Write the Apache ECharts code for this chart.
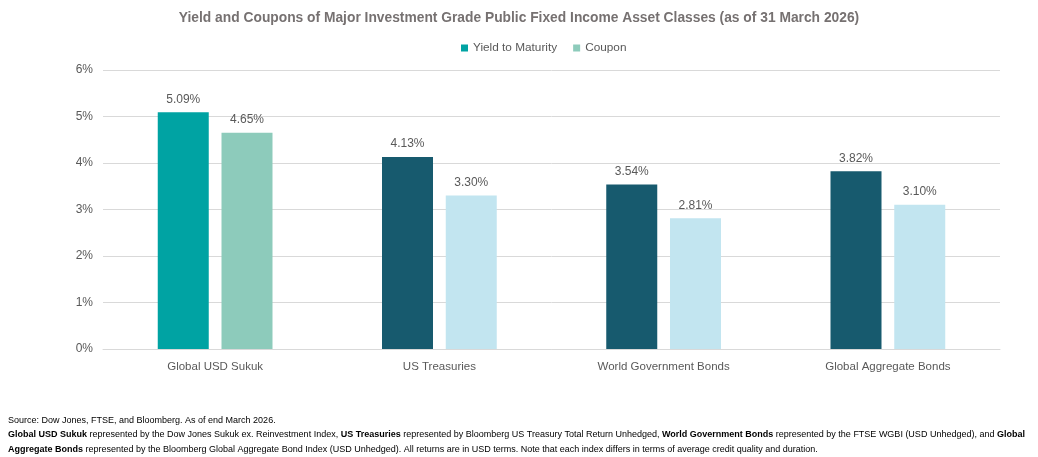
<!DOCTYPE html>
<html>
<head>
<meta charset="utf-8">
<script src="https://cdn.jsdelivr.net/npm/echarts@6/dist/echarts.min.js"></script>
<style>
  html, body { margin: 0; padding: 0; background: #fff; }
  #main { width: 1038px; height: 457px; }
</style>
</head>
<body>
<div id="main"></div>
<script>
var categories = ['Global USD Sukuk', 'US Treasuries', 'World Government Bonds', 'Global Aggregate Bonds'];
var yieldToMaturity = [5.09, 4.13, 3.54, 3.82];
var coupon = [4.65, 3.30, 2.81, 3.10];
var yTicks = [0, 1, 2, 3, 4, 5, 6];

var FONT = '"Liberation Sans Narrow", "Arial Narrow", "Liberation Sans", sans-serif';
var TEXT = '#595959';

// first category is highlighted in teal, the rest in navy / light blue
function colored(values, first, rest) {
  return values.map(function (v, i) {
    return { value: v, itemStyle: { color: i === 0 ? first : rest } };
  });
}

var footRich = {
  n: { fontFamily: FONT, fontSize: 9, color: '#000', lineHeight: 14.5 },
  b: { fontFamily: FONT, fontSize: 9, color: '#000', fontWeight: 'bold', lineHeight: 14.5 }
};

var myChart = echarts.init(document.getElementById('main'));
myChart.setOption({
  animation: false,
  textStyle: { fontFamily: FONT },
  title: {
    text: 'Yield and Coupons of Major Investment Grade Public Fixed Income Asset Classes (as of 31 March 2026)',
    left: 'center',
    top: 6,
    textStyle: { color: '#767171', fontSize: 13.8, fontWeight: 'bold', fontFamily: FONT }
  },
  legend: {
    top: 37,
    left: 456,
    itemWidth: 7,
    itemHeight: 7,
    itemGap: 16,
    icon: 'rect',
    textStyle: { color: TEXT, fontSize: 11.8, fontFamily: FONT },
    data: [
      { name: 'Yield to Maturity', itemStyle: { color: '#00A3A3' } },
      { name: 'Coupon', itemStyle: { color: '#8DCBBB' } }
    ]
  },
  grid: { left: 103, right: 38, top: 70, bottom: 108, containLabel: false },
  xAxis: {
    type: 'category',
    data: categories,
    axisTick: { show: false },
    axisLine: { lineStyle: { color: '#D9D9D9' } },
    axisLabel: { color: TEXT, fontSize: 11.5, margin: 12, fontFamily: FONT }
  },
  yAxis: {
    type: 'value',
    min: yTicks[0],
    max: yTicks[yTicks.length - 1],
    interval: 1,
    axisLabel: { color: TEXT, fontSize: 12, margin: 10, fontFamily: FONT, formatter: '{value}%' },
    splitLine: { lineStyle: { color: '#D9D9D9' } },
    axisLine: { show: false },
    axisTick: { show: false }
  },
  series: [
    {
      name: 'Yield to Maturity',
      type: 'bar',
      barWidth: 51,
      barGap: '25%',
      data: colored(yieldToMaturity, '#00A3A3', '#175A6E'),
      label: {
        show: true, position: 'top', distance: 7, color: TEXT, fontSize: 12, fontFamily: FONT,
        formatter: function (p) { return p.value.toFixed(2) + '%'; }
      }
    },
    {
      name: 'Coupon',
      type: 'bar',
      barWidth: 51,
      data: colored(coupon, '#8DCBBB', '#C2E5F0'),
      label: {
        show: true, position: 'top', distance: 7, color: TEXT, fontSize: 12, fontFamily: FONT,
        formatter: function (p) { return p.value.toFixed(2) + '%'; }
      }
    }
  ],
  graphic: [
    {
      type: 'text',
      left: 8,
      top: 416,
      style: {
        text: '{n|Source: Dow Jones, FTSE, and Bloomberg. As of end March 2026.}\n' +
          '{b|Global USD Sukuk}{n| represented by the Dow Jones Sukuk ex. Reinvestment Index, }{b|US Treasuries}{n| represented by Bloomberg US Treasury Total Return Unhedged, }{b|World Government Bonds}{n| represented by the FTSE WGBI (USD Unhedged), and }{b|Global}\n' +
          '{b|Aggregate Bonds}{n| represented by the Bloomberg Global Aggregate Bond Index (USD Unhedged). All returns are in USD terms. Note that each index differs in terms of average credit quality and duration.}',
        rich: footRich,
        fill: '#000'
      }
    }
  ]
});
</script>
</body>
</html>
